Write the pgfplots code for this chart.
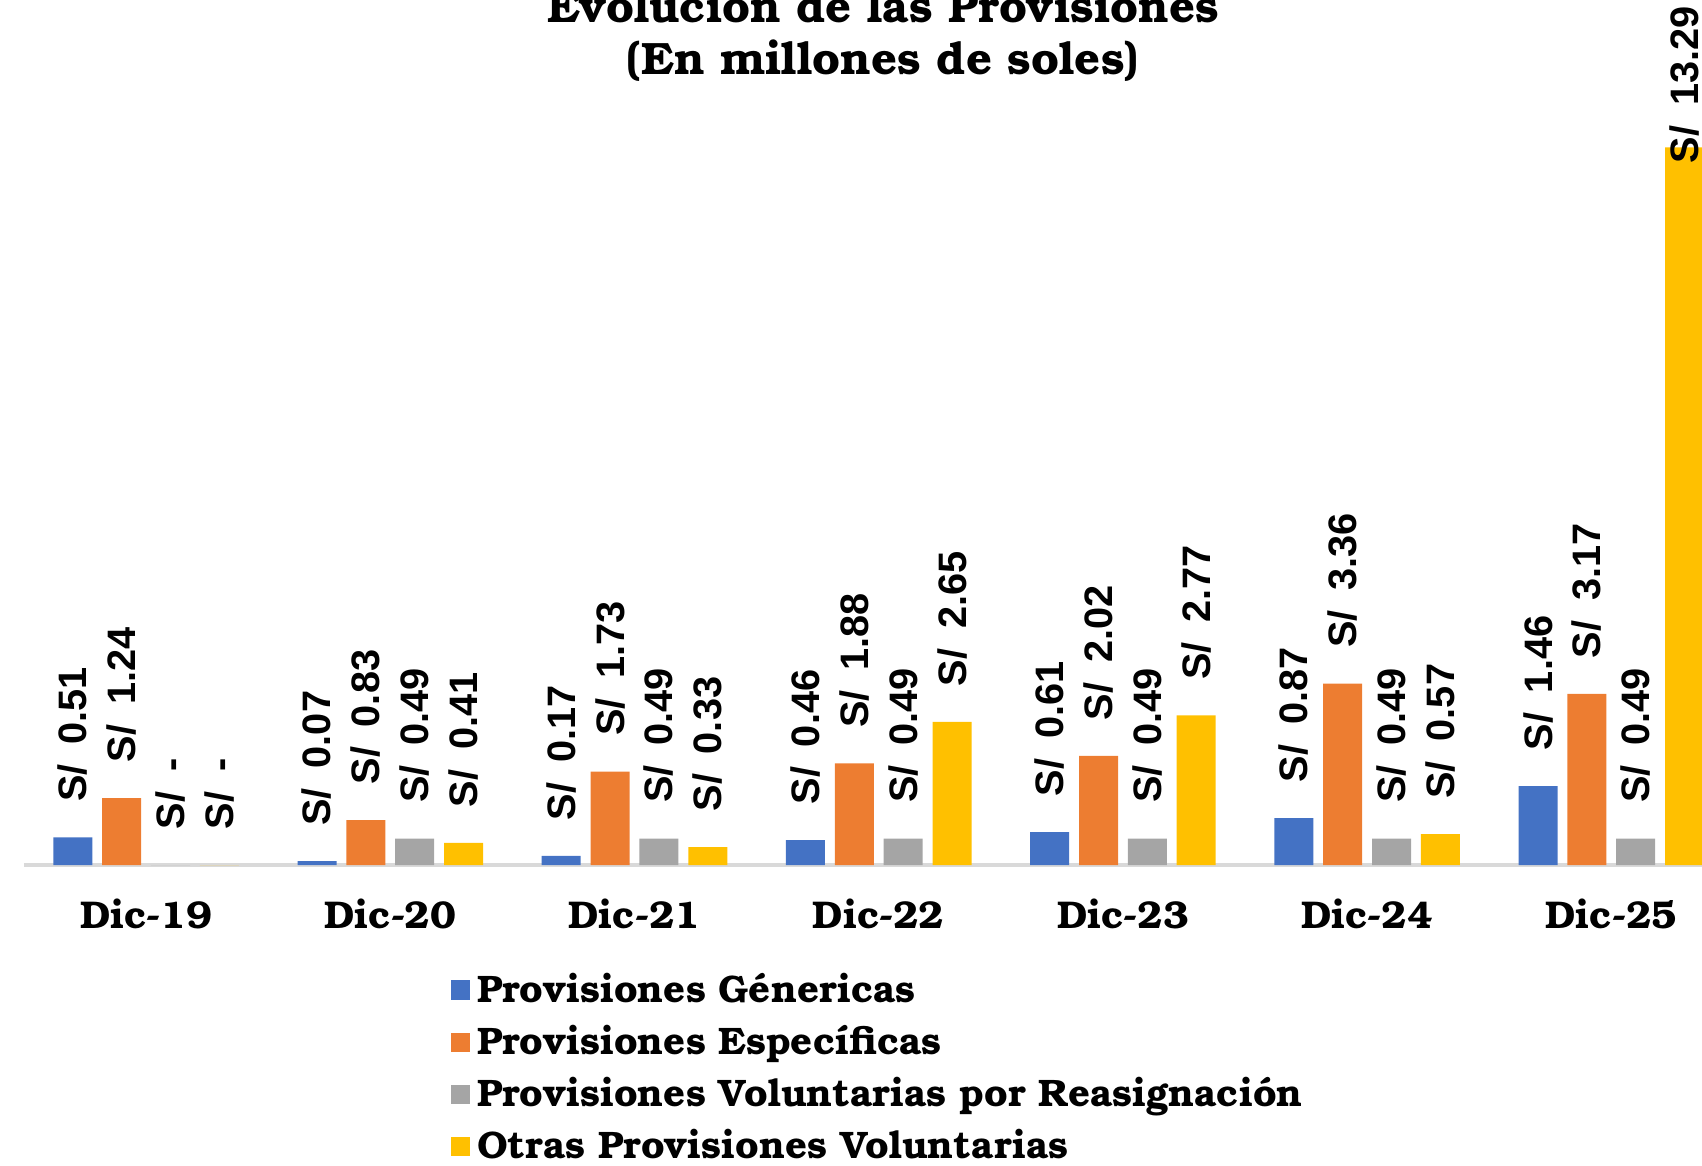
\documentclass[border=0pt]{standalone}
\usepackage{fontspec}
\usepackage{pgfplots}
\pgfplotsset{compat=1.18}
\setmainfont{Liberation Sans}
\newfontfamily\bonum{texgyrebonum}[Extension=.otf, UprightFont=*-regular, BoldFont=*-bold]

\definecolor{cgen}{HTML}{4472C4}
\definecolor{cesp}{HTML}{ED7D31}
\definecolor{cvol}{HTML}{A5A5A5}
\definecolor{cotr}{HTML}{FFC000}
\definecolor{axgray}{HTML}{D9D9D9}

\begin{document}
\begin{tikzpicture}
\begin{axis}[
  at={(0.24cm,3cm)}, anchor=south west,
  x=2.442cm, y=0.54cm,
  xmin=-0.5, xmax=6.371, ymin=0, ymax=16,
  clip=false,
  axis y line=none, ytick=\empty,
  axis x line*=bottom,
  x axis line style={draw=axgray, line width=0.95pt, -},
  xtick={0,...,6},
  xticklabels={Dic-19,Dic-20,Dic-21,Dic-22,Dic-23,Dic-24,Dic-25},
  major tick length=0pt,
  xticklabel style={font=\bonum\bfseries\fontsize{11}{13}\selectfont, yshift=-2.17mm},
  ybar, bar width=3.9mm,
  /pgf/number format/fixed, /pgf/number format/fixed zerofill,
  /pgf/number format/precision=2, /pgf/number format/assume math mode=true,
  visualization depends on={rawy \as \rawy},
  nodes near coords={\pgfmathfloatifflags{\pgfplotspointmeta}{0}{S/\hspace{0.5em}-}{S/\hspace{0.5em}\pgfmathprintnumber{\pgfplotspointmeta}}},
  nodes near coords style={font=\bfseries\fontsize{11.3}{13}\selectfont, rotate=90, anchor=west,
    inner xsep={ifthenelse(\rawy>13,-1.65,3.5)*1mm}, inner ysep=0pt, text=black},
  title={Evolución de las Provisiones\\(En millones de soles)},
  title style={at={(0.512,0.937)}, anchor=center, align=center, font=\bonum\bfseries\fontsize{12.9}{14.8}\selectfont},
  legend style={at={(0.2475,-0.108)}, anchor=north west, draw=none, fill=none,
    font=\bonum\bfseries\fontsize{10.9}{13}\selectfont, row sep=1pt},
  legend cell align=left,
  legend image code/.code={\fill[#1] (0cm,-0.095cm) rectangle (0.195cm,0.1cm);},
]
\addplot[fill=cgen, draw=none, bar shift=-7.33mm] coordinates {(0,0.51) (1,0.07) (2,0.17) (3,0.46) (4,0.61) (5,0.87) (6,1.46)};
\addlegendentry{Provisiones Génericas}
\addplot[fill=cesp, draw=none, bar shift=-2.44mm] coordinates {(0,1.24) (1,0.83) (2,1.73) (3,1.88) (4,2.02) (5,3.36) (6,3.17)};
\addlegendentry{Provisiones Específicas}
\addplot[fill=cvol, draw=none, bar shift=2.44mm] coordinates {(0,0) (1,0.49) (2,0.49) (3,0.49) (4,0.49) (5,0.49) (6,0.49)};
\addlegendentry{Provisiones Voluntarias por Reasignación}
\addplot[fill=cotr, draw=none, bar shift=7.33mm] coordinates {(0,0) (1,0.41) (2,0.33) (3,2.65) (4,2.77) (5,0.57) (6,13.29)};
\addlegendentry{Otras Provisiones Voluntarias}
\end{axis}
\pgfresetboundingbox
\useasboundingbox (0,0) rectangle (17.02cm,11.65cm);
\end{tikzpicture}
\end{document}
